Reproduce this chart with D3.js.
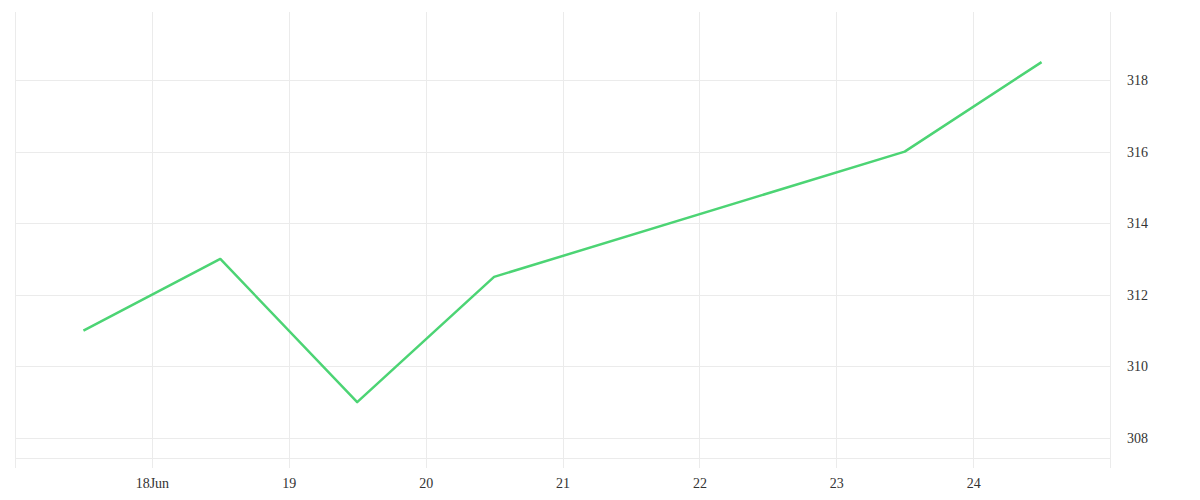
<!DOCTYPE html>
<html>
<head>
<meta charset="utf-8">
<script src="https://cdn.jsdelivr.net/npm/d3@7"></script>
<style>
  html, body { margin: 0; padding: 0; background: #fff; }
  svg { display: block; }
  .tick text { font-family: "Liberation Serif", serif; font-size: 14px; fill: #333; }
</style>
</head>
<body>
<svg id="chart" width="1200" height="500"></svg>
<script>
// Data
const dates = ["2024-06-17T12:00", "2024-06-18T12:00", "2024-06-19T12:00", "2024-06-20T12:00", "2024-06-23T12:00", "2024-06-24T12:00"];
const values = [311, 313, 309, 312.5, 316, 318.5];
const xTickDates = ["2024-06-17", "2024-06-18", "2024-06-19", "2024-06-20", "2024-06-21", "2024-06-22", "2024-06-23", "2024-06-24", "2024-06-25"];
const xTickLabels = ["", "18Jun", "19", "20", "21", "22", "23", "24", ""];
const yTicks = [308, 310, 312, 314, 316, 318];
const xDomain = ["2024-06-17", "2024-06-25"];
const yDomain = [307.44, 319.9];

const parse = d3.timeParse("%Y-%m-%dT%H:%M");
const parseDay = d3.timeParse("%Y-%m-%d");
const points = dates.map((d, i) => ({ date: parse(d), value: values[i] }));

const svg = d3.select("#chart");
const mLeft = 15, mRight = 1110, mTop = 12, mBottom = 458;

const x = d3.scaleTime().domain(xDomain.map(parseDay)).range([mLeft, mRight]);
const y = d3.scaleLinear().domain(yDomain).range([mBottom, mTop]);

const gridColor = "#ebebeb";

// vertical grid lines (extend below plot as ticks)
const xTicks = xTickDates.map(parseDay);
svg.append("g").selectAll("line").data(xTicks).join("line")
  .attr("x1", d => Math.round(x(d)) + 0.5).attr("x2", d => Math.round(x(d)) + 0.5)
  .attr("y1", mTop).attr("y2", mBottom + 10)
  .attr("stroke", gridColor).attr("stroke-width", 1);

// horizontal grid lines
svg.append("g").selectAll("line").data(yTicks).join("line")
  .attr("x1", mLeft).attr("x2", mRight)
  .attr("y1", d => Math.round(y(d)) + 0.5).attr("y2", d => Math.round(y(d)) + 0.5)
  .attr("stroke", gridColor).attr("stroke-width", 1);

// bottom axis line
svg.append("line")
  .attr("x1", mLeft).attr("x2", mRight)
  .attr("y1", mBottom + 0.5).attr("y2", mBottom + 0.5)
  .attr("stroke", gridColor).attr("stroke-width", 1);

// x axis labels
const xAxis = d3.axisBottom(x).tickValues(xTicks)
  .tickFormat((d, i) => xTickLabels[i]).tickSize(0).tickPadding(20);
const gx = svg.append("g").attr("transform", `translate(0,${mBottom})`).call(xAxis);
gx.select(".domain").remove();

// y axis labels
const yAxis = d3.axisRight(y).tickValues(yTicks).tickSize(0).tickPadding(17);
const gy = svg.append("g").attr("transform", `translate(${mRight},0)`).call(yAxis);
gy.select(".domain").remove();

// line
const line = d3.line().x(d => x(d.date)).y(d => y(d.value));
svg.append("path").datum(points)
  .attr("d", line)
  .attr("fill", "none")
  .attr("stroke", "#4cd474")
  .attr("stroke-width", 2.5)
  .attr("stroke-linejoin", "round");
</script>
</body>
</html>
